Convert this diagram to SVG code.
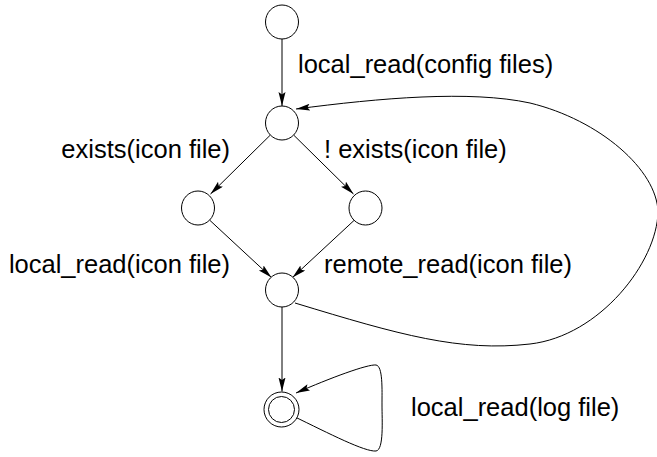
<svg xmlns="http://www.w3.org/2000/svg" width="657" height="457" viewBox="0 0 657 457">
<style>
.n{fill:#fff;stroke:#000;stroke-width:1}
.e{fill:none;stroke:#000;stroke-width:1}
.t{font-family:"Liberation Sans",Arial,sans-serif;font-size:25.5px;fill:#000}
</style>
<defs>
<marker id="a" markerUnits="userSpaceOnUse" markerWidth="16" markerHeight="10" refX="14" refY="3.5" orient="auto">
<path d="M0,0 L14,3.5 L0,7 L2.5,3.5 z" fill="#000"/>
</marker>
</defs>
<rect width="657" height="457" fill="#fff"/>
<g id="connectors">
<line class="e" x1="282" y1="39" x2="282" y2="106" marker-end="url(#a)"/>
<line class="e" x1="270.4" y1="135" x2="210.5" y2="194" marker-end="url(#a)"/>
<line class="e" x1="293.6" y1="135" x2="353.5" y2="194" marker-end="url(#a)"/>
<line class="e" x1="209.5" y1="220" x2="271.5" y2="277.5" marker-end="url(#a)"/>
<line class="e" x1="354.5" y1="220" x2="292.5" y2="277.5" marker-end="url(#a)"/>
<line class="e" x1="282" y1="307" x2="282" y2="391.5" marker-end="url(#a)"/>
<path class="e" d="M295,303 C400,335 460,352 530,344 C600,336 657,262 658,212 C657,170 600,120 530,103 C470,90 380,98 296,109" marker-end="url(#a)"/>
<path class="e" d="M293,416 C330,434 365,452 376,451 C384,450 382,420 382,405 C382,390 383,366 376,365 C368,364 330,378 296,393" marker-end="url(#a)"/>
</g>
<g id="s0"><ellipse class="n" cx="282" cy="22" rx="16.5" ry="17"/></g>
<g id="s1"><ellipse class="n" cx="282" cy="123" rx="16.5" ry="17"/></g>
<g id="s2"><ellipse class="n" cx="198" cy="208" rx="16.5" ry="17"/></g>
<g id="s3"><ellipse class="n" cx="365.5" cy="208" rx="16.5" ry="17"/></g>
<g id="s4"><ellipse class="n" cx="282" cy="290" rx="16.5" ry="17"/></g>
<g id="s5"><ellipse class="n" cx="281.5" cy="409.5" rx="17.5" ry="17.5"/><ellipse class="n" cx="281.5" cy="409.5" rx="13" ry="13"/></g>
<g id="labels">
<text class="t" x="298" y="73">local_read(config files)</text>
<text class="t" x="230" y="158" text-anchor="end">exists(icon file)</text>
<text class="t" x="324" y="158">! exists(icon file)</text>
<text class="t" x="230" y="273" text-anchor="end">local_read(icon file)</text>
<text class="t" x="324" y="273">remote_read(icon file)</text>
<text class="t" x="411" y="416">local_read(log file)</text>
</g>
</svg>
